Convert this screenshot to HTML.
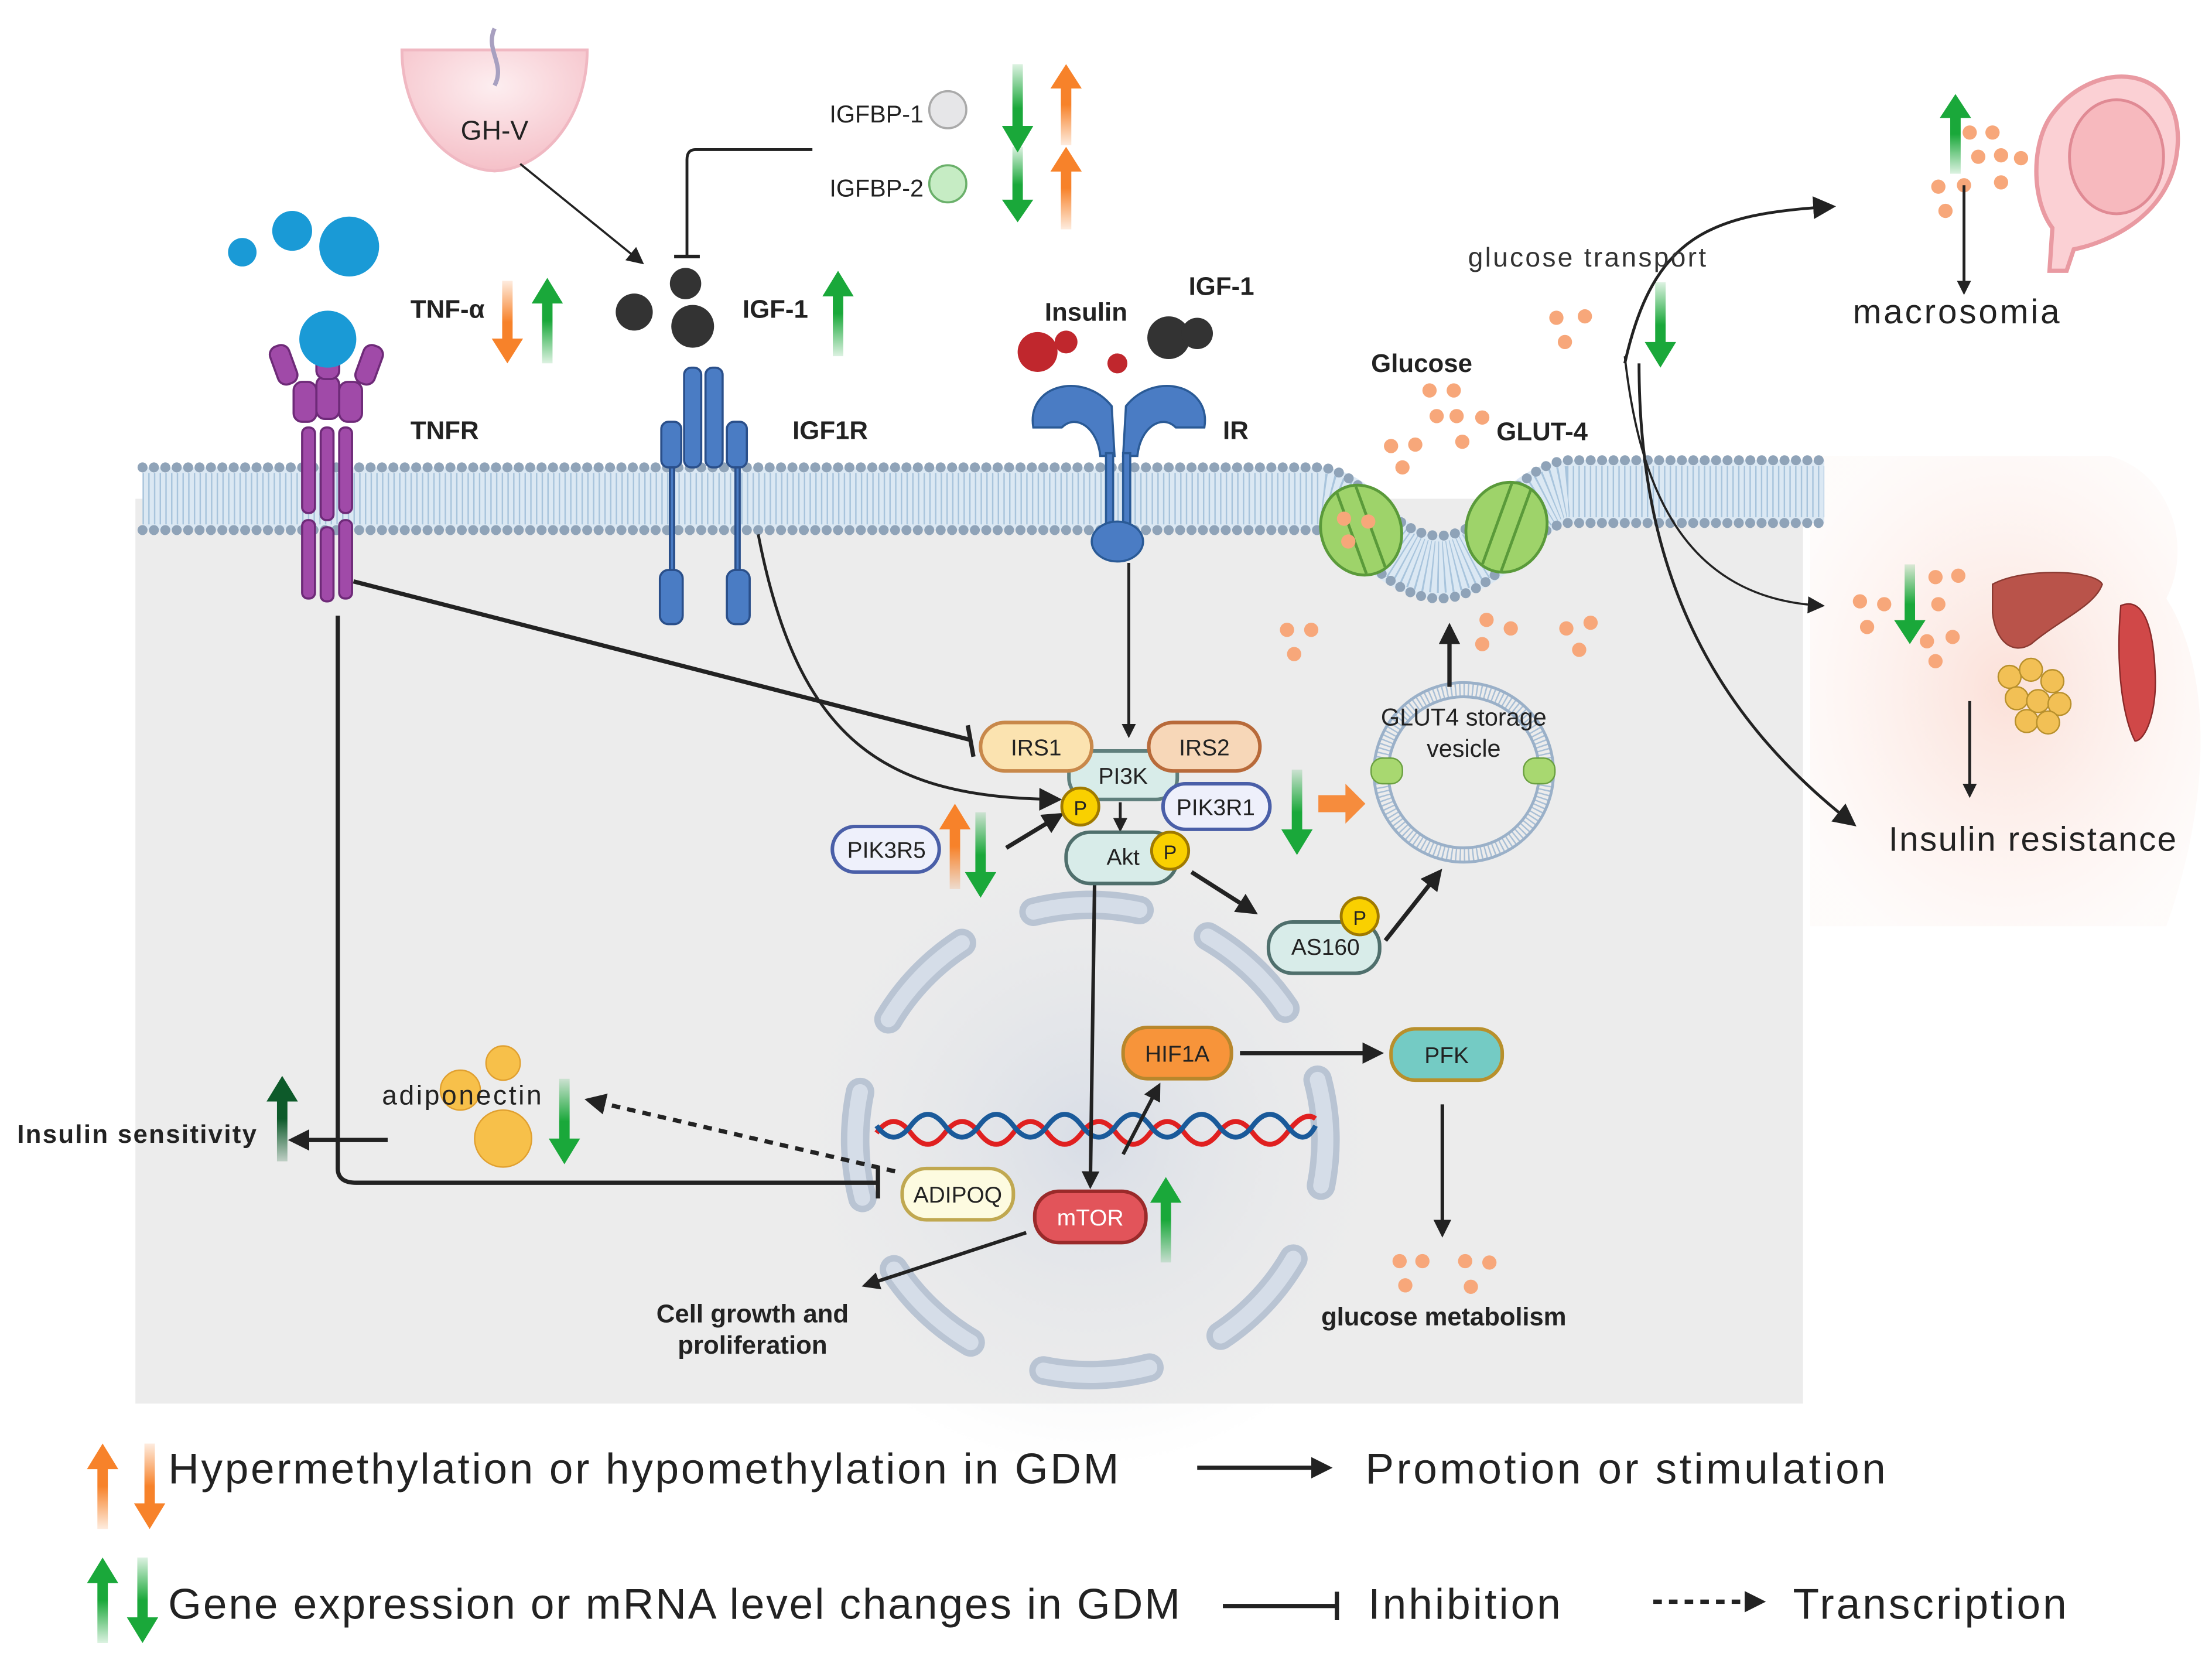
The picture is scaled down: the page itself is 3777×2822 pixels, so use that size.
<!DOCTYPE html>
<html><head><meta charset="utf-8"><style>html,body{margin:0;padding:0;background:#fff}svg{display:block}text{font-family:"Liberation Sans",sans-serif}</style></head><body>
<svg width="3777" height="2822" viewBox="0 0 1552 1160" preserveAspectRatio="none" xmlns="http://www.w3.org/2000/svg">
<defs>
<linearGradient id="gd" x1="0" y1="0" x2="0" y2="1"><stop offset="0" stop-color="#1aa83a" stop-opacity=".15"/><stop offset=".5" stop-color="#1aa83a"/></linearGradient>
<linearGradient id="gu" x1="0" y1="1" x2="0" y2="0"><stop offset="0" stop-color="#1aa83a" stop-opacity=".15"/><stop offset=".5" stop-color="#1aa83a"/></linearGradient>
<linearGradient id="od" x1="0" y1="0" x2="0" y2="1"><stop offset="0" stop-color="#f7822a" stop-opacity=".15"/><stop offset=".5" stop-color="#f7822a"/></linearGradient>
<linearGradient id="ou" x1="0" y1="1" x2="0" y2="0"><stop offset="0" stop-color="#f7822a" stop-opacity=".15"/><stop offset=".5" stop-color="#f7822a"/></linearGradient>
<linearGradient id="dgu" x1="0" y1="1" x2="0" y2="0"><stop offset="0" stop-color="#0d5a2a" stop-opacity=".2"/><stop offset=".5" stop-color="#0d5a2a"/></linearGradient>
<symbol id="GD" viewBox="0 0 24 60" preserveAspectRatio="none"><path d="M8 0H16V42H24L12 60L0 42H8Z" fill="url(#gd)"/></symbol>
<symbol id="GU" viewBox="0 0 24 60" preserveAspectRatio="none"><path d="M12 0L24 18H16V60H8V18H0Z" fill="url(#gu)"/></symbol>
<symbol id="OD" viewBox="0 0 24 60" preserveAspectRatio="none"><path d="M8 0H16V42H24L12 60L0 42H8Z" fill="url(#od)"/></symbol>
<symbol id="OU" viewBox="0 0 24 60" preserveAspectRatio="none"><path d="M12 0L24 18H16V60H8V18H0Z" fill="url(#ou)"/></symbol>
<symbol id="DU" viewBox="0 0 24 60" preserveAspectRatio="none"><path d="M12 0L24 18H16V60H8V18H0Z" fill="url(#dgu)"/></symbol>
<marker id="ah" viewBox="0 0 10 10" refX="8" refY="5" markerWidth="5" markerHeight="5" orient="auto"><path d="M0 0L10 5L0 10Z" fill="#222"/></marker>
<marker id="ahs" viewBox="0 0 10 10" refX="8" refY="5" markerWidth="8" markerHeight="8" orient="auto"><path d="M0 0L10 5L0 10Z" fill="#222"/></marker>
<radialGradient id="pink" cx=".5" cy=".5" r=".6"><stop offset="0" stop-color="#fbe0d8"/><stop offset="1" stop-color="#fdf3f0" stop-opacity=".3"/></radialGradient>
<radialGradient id="nuc" cx=".5" cy=".5" r=".5"><stop offset="0" stop-color="#d8dde6"/><stop offset="1" stop-color="#ececec" stop-opacity="0"/></radialGradient>
<radialGradient id="plac" cx=".5" cy=".3" r=".7"><stop offset="0" stop-color="#fdeef0"/><stop offset="1" stop-color="#f5c0c8"/></radialGradient>
</defs>

<rect x="95" y="350" width="1170" height="635" fill="#ececec"/>
<circle cx="765" cy="800" r="230" fill="url(#nuc)"/>
<path d="M1270 320 H1480 C1520 330 1540 380 1520 420 C1552 470 1552 560 1520 650 H1270 Z" fill="url(#pink)"/>

<g fill="none">
<path d="M100 350 L925 350 C955 350 970 398 1010 398 C1050 398 1065 348 1100 345 L1280 345" stroke="#dbe8f3" stroke-width="44"/>
<path d="M100 350 L925 350 C955 350 970 398 1010 398 C1050 398 1065 348 1100 345 L1280 345" stroke="#a8c4dc" stroke-width="36" stroke-dasharray="1 3"/>
<path d="M100 328 L925 328 C955 328 975 376 1010 376 C1045 376 1065 325 1100 323 L1280 323" stroke="#8fa3b8" stroke-width="7" stroke-linecap="round" stroke-dasharray="0 8"/>
<path d="M100 372 L925 372 C950 372 970 420 1010 420 C1050 420 1070 370 1100 367 L1280 367" stroke="#8fa3b8" stroke-width="7" stroke-linecap="round" stroke-dasharray="0 8"/>
</g>

<circle cx="765" cy="800" r="165" fill="none" stroke="#b9c4d3" stroke-width="20" stroke-linecap="round" stroke-dasharray="75 55" transform="rotate(-60 765 800)"/>
<circle cx="765" cy="800" r="165" fill="none" stroke="#d5dde8" stroke-width="11" stroke-linecap="round" stroke-dasharray="75 55" transform="rotate(-60 765 800)"/>

<path d="M615 795 q12 -16 24 0 t24 0 t24 0 t24 0 t24 0 t24 0 t24 0 t24 0 t24 0 t24 0 t24 0 t24 0 t20 -10" fill="none" stroke="#e02020" stroke-width="3.5"/>
<path d="M615 790 q12 16 24 0 t24 0 t24 0 t24 0 t24 0 t24 0 t24 0 t24 0 t24 0 t24 0 t24 0 t24 0 t20 0" fill="none" stroke="#1a5a9a" stroke-width="3.5"/>

<path d="M282 35 C282 80 310 118 347 120 C384 118 412 80 412 35 Z" fill="url(#plac)" stroke="#f0b8c2" stroke-width="2"/>
<path d="M347 20 C340 35 355 45 347 60" stroke="#a8a0c0" stroke-width="3" fill="none"/>
<text x="347" y="98" font-size="19" text-anchor="middle" fill="#222">GH-V</text>

<path d="M1440 80 C1470 40 1530 45 1528 100 C1526 150 1480 170 1455 175 L1450 190 L1438 190 L1440 160 C1425 140 1425 100 1440 80Z" fill="#fbd0d4" stroke="#e99aa2" stroke-width="3"/>
<ellipse cx="1485" cy="110" rx="33" ry="40" fill="#f7b9be" stroke="#e08a94" stroke-width="2"/>

<g fill="#a04aa8" stroke="#6e2a78" stroke-width="1.5">
<rect x="212" y="365" width="9" height="55" rx="4"/><rect x="225" y="370" width="9" height="52" rx="4"/><rect x="238" y="365" width="9" height="55" rx="4"/>
<rect x="212" y="300" width="9" height="60" rx="4"/><rect x="225" y="300" width="9" height="65" rx="4"/><rect x="238" y="300" width="9" height="60" rx="4"/>
<rect x="206" y="268" width="16" height="28" rx="6"/><rect x="222" y="264" width="16" height="30" rx="6"/><rect x="238" y="268" width="16" height="28" rx="6"/>
<rect x="192" y="242" width="14" height="28" rx="6" transform="rotate(-20 199 256)"/><rect x="252" y="242" width="14" height="28" rx="6" transform="rotate(20 259 256)"/>
<rect x="222" y="238" width="16" height="28" rx="6"/>
</g>
<circle cx="230" cy="238" r="20" fill="#1a9ad6"/>
<circle cx="170" cy="177" r="10" fill="#1a9ad6"/><circle cx="205" cy="162" r="14" fill="#1a9ad6"/><circle cx="245" cy="173" r="21" fill="#1a9ad6"/>

<g fill="#4a7cc4" stroke="#2a4f8a" stroke-width="1.5">
<rect x="480" y="258" width="12" height="70" rx="5"/><rect x="495" y="258" width="12" height="70" rx="5"/>
<rect x="464" y="296" width="14" height="32" rx="5"/><rect x="510" y="296" width="14" height="32" rx="5"/>
<rect x="470" y="328" width="3" height="75"/><rect x="516" y="328" width="3" height="75"/>
<rect x="463" y="400" width="16" height="38" rx="6"/><rect x="510" y="400" width="16" height="38" rx="6"/>
</g>
<circle cx="445" cy="219" r="13" fill="#333"/><circle cx="481" cy="199" r="11" fill="#333"/><circle cx="486" cy="229" r="15" fill="#333"/>

<g fill="#4a7cc4" stroke="#2a5a96" stroke-width="1.5">
<path d="M725 300 C720 270 760 260 780 285 L782 320 L772 320 C770 300 755 290 745 300 Z"/>
<path d="M845 300 C850 270 810 260 790 285 L788 320 L798 320 C800 300 815 290 825 300 Z"/>
<rect x="776" y="318" width="5" height="55"/><rect x="788" y="318" width="5" height="55"/>
<ellipse cx="784" cy="380" rx="18" ry="14"/>
</g>
<circle cx="728" cy="247" r="14" fill="#c0272d"/><circle cx="748" cy="240" r="8" fill="#c0272d"/><circle cx="784" cy="255" r="7" fill="#c0272d"/>
<circle cx="820" cy="237" r="15" fill="#333"/><circle cx="840" cy="234" r="11" fill="#333"/>

<g transform="rotate(-20 955 372)"><ellipse cx="955" cy="372" rx="28" ry="32" fill="#9ed36a" stroke="#5a9a3a" stroke-width="2"/><line x1="948" y1="342" x2="948" y2="402" stroke="#5a9a3a" stroke-width="2"/><line x1="962" y1="342" x2="962" y2="402" stroke="#5a9a3a" stroke-width="2"/></g>
<g transform="rotate(20 1057 370)"><ellipse cx="1057" cy="370" rx="28" ry="32" fill="#9ed36a" stroke="#5a9a3a" stroke-width="2"/><line x1="1050" y1="340" x2="1050" y2="400" stroke="#5a9a3a" stroke-width="2"/><line x1="1064" y1="340" x2="1064" y2="400" stroke="#5a9a3a" stroke-width="2"/></g>

<circle cx="1027" cy="542" r="58" fill="none" stroke="#a8bfd6" stroke-width="10" stroke-dasharray="1 2"/>
<circle cx="1027" cy="542" r="63" fill="none" stroke="#9ab0c8" stroke-width="2"/>
<circle cx="1027" cy="542" r="53" fill="none" stroke="#9ab0c8" stroke-width="2"/>
<rect x="962" y="532" width="22" height="18" rx="8" fill="#a8d870" stroke="#6aa040"/><rect x="1069" y="532" width="22" height="18" rx="8" fill="#a8d870" stroke="#6aa040"/>
<text x="1027" y="509" font-size="17" text-anchor="middle" fill="#222">GLUT4 storage</text>
<text x="1027" y="531" font-size="17" text-anchor="middle" fill="#222">vesicle</text>

<g fill="#f7a77a">
<circle cx="1003" cy="274" r="5"/><circle cx="1020" cy="274" r="5"/><circle cx="1008" cy="292" r="5"/><circle cx="1022" cy="292" r="5"/><circle cx="1040" cy="293" r="5"/><circle cx="993" cy="312" r="5"/><circle cx="976" cy="313" r="5"/><circle cx="1026" cy="310" r="5"/><circle cx="984" cy="328" r="5"/>
<circle cx="943" cy="364" r="5"/><circle cx="960" cy="366" r="5"/><circle cx="946" cy="380" r="5"/>
<circle cx="903" cy="442" r="5"/><circle cx="920" cy="442" r="5"/><circle cx="908" cy="459" r="5"/>
<circle cx="1043" cy="435" r="5"/><circle cx="1060" cy="441" r="5"/><circle cx="1040" cy="452" r="5"/>
<circle cx="1099" cy="441" r="5"/><circle cx="1116" cy="437" r="5"/><circle cx="1108" cy="456" r="5"/>
<circle cx="1092" cy="223" r="5"/><circle cx="1112" cy="222" r="5"/><circle cx="1098" cy="240" r="5"/>
<circle cx="1382" cy="93" r="5"/><circle cx="1398" cy="93" r="5"/><circle cx="1388" cy="110" r="5"/><circle cx="1404" cy="109" r="5"/><circle cx="1418" cy="111" r="5"/><circle cx="1360" cy="131" r="5"/><circle cx="1378" cy="130" r="5"/><circle cx="1404" cy="128" r="5"/><circle cx="1365" cy="148" r="5"/>
<circle cx="1305" cy="422" r="5"/><circle cx="1322" cy="424" r="5"/><circle cx="1310" cy="440" r="5"/><circle cx="1358" cy="405" r="5"/><circle cx="1374" cy="404" r="5"/><circle cx="1360" cy="424" r="5"/><circle cx="1370" cy="447" r="5"/><circle cx="1352" cy="450" r="5"/><circle cx="1358" cy="464" r="5"/>
<circle cx="982" cy="885" r="5"/><circle cx="998" cy="885" r="5"/><circle cx="986" cy="902" r="5"/><circle cx="1028" cy="885" r="5"/><circle cx="1045" cy="886" r="5"/><circle cx="1032" cy="903" r="5"/>
</g>

<path d="M1398 410 C1420 398 1470 400 1475 410 C1470 425 1445 435 1425 452 C1412 460 1400 450 1398 430Z" fill="#b9534a" stroke="#8a3a32"/>
<g fill="#f2c055" stroke="#b8902c"><circle cx="1410" cy="475" r="8"/><circle cx="1425" cy="470" r="8"/><circle cx="1440" cy="478" r="8"/><circle cx="1415" cy="490" r="8"/><circle cx="1430" cy="492" r="8"/><circle cx="1445" cy="494" r="8"/><circle cx="1422" cy="506" r="8"/><circle cx="1437" cy="507" r="8"/></g>
<path d="M1488 425 C1500 420 1510 430 1512 470 C1514 500 1505 520 1498 520 C1490 505 1484 470 1488 425Z" fill="#d04848" stroke="#8a2a2a"/>

<circle cx="665" cy="77" r="13" fill="#e6e6e8" stroke="#aaa" stroke-width="1.5"/>
<circle cx="665" cy="129" r="13" fill="#c6ecc4" stroke="#6ab06a" stroke-width="1.5"/>
<text x="582" y="86" font-size="17" fill="#222" textLength="66">IGFBP-1</text>
<text x="582" y="138" font-size="17" fill="#222" textLength="66">IGFBP-2</text>

<use href="#GD" x="703" y="45" width="22" height="62"/><use href="#OU" x="737" y="45" width="22" height="57"/>
<use href="#GD" x="703" y="103" width="22" height="53"/><use href="#OU" x="737" y="103" width="22" height="58"/>
<use href="#OD" x="345" y="197" width="22" height="58"/><use href="#GU" x="373" y="195" width="22" height="60"/>
<use href="#GU" x="577" y="190" width="22" height="60"/>
<use href="#GD" x="1154" y="198" width="22" height="60"/>
<use href="#GU" x="1361" y="66" width="22" height="56"/>
<use href="#GD" x="1329" y="396" width="22" height="56"/>
<use href="#GD" x="899" y="540" width="22" height="60"/>
<path d="M925 558 H944 V550 L958 564 L944 578 V570 H925Z" fill="#f7822a" opacity=".9"/>
<use href="#OU" x="659" y="564" width="22" height="60"/><use href="#GD" x="677" y="570" width="22" height="60"/>
<use href="#GU" x="807" y="826" width="22" height="60"/>
<use href="#GD" x="385" y="757" width="22" height="60"/>
<use href="#DU" x="187" y="755" width="22" height="60"/>

<g fill="none" stroke="#222">
<line x1="248" y1="408" x2="680" y2="519" stroke-width="3"/>
<line x1="679" y1="509" x2="683" y2="531" stroke-width="3"/>
<path d="M237 432 V820 Q237 830 250 830 H615" stroke-width="3"/>
<line x1="616" y1="819" x2="616" y2="841" stroke-width="3"/>
<path d="M532 375 C560 520 620 560 742 561" stroke-width="2" marker-end="url(#ahs)"/>
<line x1="792" y1="395" x2="792" y2="516" stroke-width="2" marker-end="url(#ah)"/>
<line x1="786" y1="563" x2="786" y2="582" stroke-width="2" marker-end="url(#ah)"/>
<line x1="706" y1="595" x2="744" y2="572" stroke-width="3" marker-end="url(#ah)"/>
<line x1="836" y1="612" x2="880" y2="640" stroke-width="3" marker-end="url(#ah)"/>
<line x1="972" y1="660" x2="1010" y2="612" stroke-width="3" marker-end="url(#ah)"/>
<line x1="1017" y1="482" x2="1017" y2="440" stroke-width="3" marker-end="url(#ah)"/>
<line x1="768" y1="620" x2="765" y2="832" stroke-width="2.5" marker-end="url(#ah)"/>
<line x1="788" y1="810" x2="813" y2="762" stroke-width="2.5" marker-end="url(#ah)"/>
<line x1="870" y1="739" x2="968" y2="739" stroke-width="3" marker-end="url(#ah)"/>
<line x1="1012" y1="775" x2="1012" y2="866" stroke-width="2.5" marker-end="url(#ah)"/>
<line x1="720" y1="865" x2="607" y2="902" stroke-width="2.5" marker-end="url(#ah)"/>
<line x1="628" y1="822" x2="413" y2="772" stroke-width="3" stroke-dasharray="6 5" marker-end="url(#ah)"/>
<line x1="272" y1="800" x2="205" y2="800" stroke-width="3" marker-end="url(#ah)"/>
<line x1="365" y1="115" x2="450" y2="184" stroke-width="1.5" marker-end="url(#ahs)"/>
<path d="M570 105 H488 Q482 105 482 112 V180" stroke-width="2"/>
<line x1="473" y1="180" x2="491" y2="180" stroke-width="2.5"/>
<path d="M1140 255 C1160 165 1200 150 1285 145" stroke-width="2" marker-end="url(#ahs)"/>
<path d="M1140 250 C1150 340 1180 420 1278 425" stroke-width="1.5" marker-end="url(#ahs)"/>
<path d="M1150 255 C1150 400 1200 500 1300 578" stroke-width="2" marker-end="url(#ahs)"/>
<line x1="1378" y1="130" x2="1378" y2="205" stroke-width="2" marker-end="url(#ah)"/>
<line x1="1382" y1="492" x2="1382" y2="558" stroke-width="2" marker-end="url(#ah)"/>
<line x1="840" y1="1030" x2="932" y2="1030" stroke-width="3" marker-end="url(#ah)"/>
<line x1="858" y1="1127" x2="938" y2="1127" stroke-width="3"/><line x1="938" y1="1117" x2="938" y2="1137" stroke-width="3"/>
<line x1="1160" y1="1124" x2="1236" y2="1124" stroke-width="3" stroke-dasharray="6 5" marker-end="url(#ah)"/>
</g>

<circle cx="353" cy="746" r="12" fill="#f7c04a" stroke="#e0a030"/><circle cx="323" cy="765" r="14" fill="#f7c04a" stroke="#e0a030"/><circle cx="353" cy="799" r="20" fill="#f7c04a" stroke="#e0a030"/>

<g stroke-width="2.5" font-size="16">
<rect x="750" y="527" width="76" height="34" rx="15" fill="#d8ece9" stroke="#5f7f7c"/>
<rect x="688" y="507" width="78" height="34" rx="17" fill="#fbe3b0" stroke="#c8884a"/>
<rect x="806" y="507" width="78" height="34" rx="17" fill="#f7d7b8" stroke="#b86a3a"/>
<rect x="816" y="550" width="75" height="32" rx="16" fill="#eef0fb" stroke="#4a5fa8"/>
<rect x="584" y="580" width="75" height="32" rx="16" fill="#eef0fb" stroke="#4a5fa8"/>
<rect x="748" y="584" width="78" height="36" rx="17" fill="#d8ece9" stroke="#4f6f6c"/>
<rect x="890" y="647" width="78" height="36" rx="17" fill="#d8ece9" stroke="#4f6f6c"/>
<rect x="788" y="721" width="76" height="36" rx="17" fill="#f7943a" stroke="#b8872c"/>
<rect x="976" y="722" width="78" height="36" rx="17" fill="#74cbc4" stroke="#b8902c"/>
<rect x="726" y="836" width="78" height="36" rx="17" fill="#e2545a" stroke="#9a2a2a"/>
<rect x="633" y="820" width="78" height="36" rx="17" fill="#fdfbe0" stroke="#c0a850"/>
</g>
<g fill="#f9d000" stroke="#a07a00" stroke-width="2"><circle cx="758" cy="566" r="13"/><circle cx="821" cy="597" r="13"/><circle cx="954" cy="643" r="13"/></g>
<g font-size="16" text-anchor="middle" fill="#222">
<text x="788" y="550">PI3K</text><text x="727" y="530">IRS1</text><text x="845" y="530">IRS2</text>
<text x="853" y="572">PIK3R1</text><text x="622" y="602">PIK3R5</text><text x="788" y="607">Akt</text>
<text x="930" y="670">AS160</text><text x="826" y="745">HIF1A</text><text x="1015" y="746">PFK</text>
<text x="765" y="860" fill="#fff">mTOR</text><text x="672" y="844">ADIPOQ</text>
<text x="758" y="572" font-size="14">P</text><text x="821" y="603" font-size="14">P</text><text x="954" y="649" font-size="14">P</text>
</g>

<g font-size="18" font-weight="bold" fill="#222">
<text x="288" y="223">TNF-α</text><text x="521" y="223">IGF-1</text><text x="288" y="308">TNFR</text><text x="556" y="308">IGF1R</text>
<text x="733" y="225">Insulin</text><text x="834" y="207">IGF-1</text><text x="858" y="308">IR</text>
<text x="962" y="261">Glucose</text><text x="1050" y="309">GLUT-4</text>
<text x="12" y="802" textLength="168">Insulin sensitivity</text>
<text x="528" y="928" text-anchor="middle">Cell growth and</text><text x="528" y="950" text-anchor="middle">proliferation</text>
<text x="927" y="930" textLength="172">glucose metabolism</text>
</g>
<text x="268" y="775" font-size="19" fill="#222" textLength="112">adiponectin</text>
<text x="1030" y="187" font-size="19" fill="#333" textLength="167">glucose transport</text>
<text x="1300" y="227" font-size="24" fill="#222" textLength="145">macrosomia</text>
<text x="1325" y="597" font-size="24" fill="#222" textLength="202">Insulin resistance</text>

<use href="#OU" x="61" y="1013" width="22" height="60"/><use href="#OD" x="94" y="1013" width="22" height="60"/>
<use href="#GU" x="61" y="1093" width="22" height="60"/><use href="#GD" x="89" y="1093" width="22" height="60"/>
<g font-size="30" fill="#222">
<text x="118" y="1041" textLength="667">Hypermethylation or hypomethylation in GDM</text>
<text x="958" y="1041" textLength="365">Promotion or stimulation</text>
<text x="118" y="1136" textLength="710">Gene expression or mRNA level changes in GDM</text>
<text x="960" y="1136" textLength="135">Inhibition</text>
<text x="1258" y="1136" textLength="192">Transcription</text>
</g>
</svg>
</body></html>
